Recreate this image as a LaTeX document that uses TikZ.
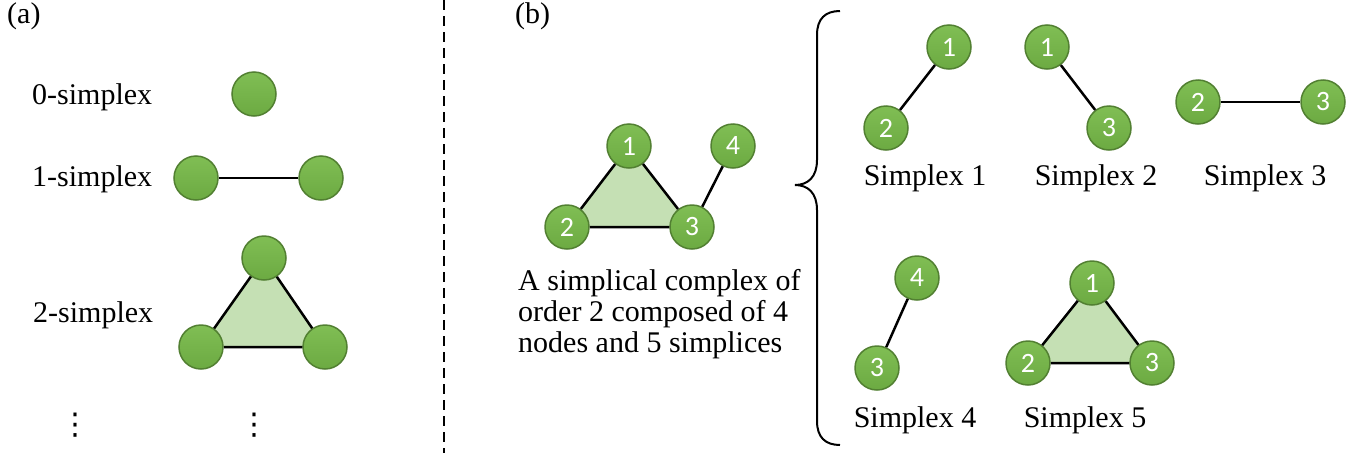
\documentclass[tikz,border=0pt]{standalone}
\usepackage{fontspec}
\setmainfont{Liberation Serif}
\newfontfamily\calfont{Carlito}
\newfontfamily\djv{DejaVu Sans}
\usetikzlibrary{backgrounds}
\definecolor{ballTop}{RGB}{128,190,84}
\definecolor{ballBot}{RGB}{108,170,66}
\definecolor{ballEdge}{RGB}{82,128,50}
\definecolor{faceGreen}{RGB}{197,224,180}
\begin{document}
\begin{tikzpicture}[x=1pt,y=-1pt,
  ball/.style={circle, minimum size=44pt, inner sep=0pt, draw=ballEdge, line width=1.5pt,
    top color=ballTop, bottom color=ballBot, text=white,
    font=\calfont\fontsize{28}{28}\selectfont},
  lbl/.style={font=\fontsize{30}{31}\selectfont, inner sep=0pt},
  dots/.style={font=\djv\fontsize{30}{30}\selectfont, inner sep=0pt},
  edge/.style={line width=2.5pt, black},
  face/.style={fill=faceGreen}]
\useasboundingbox (0,0) rectangle (1353,453);

% (a)
\node[lbl, anchor=west] (la) at (7,16) {(a)};
\node[lbl, anchor=west] (t0) at (32,97) {0-simplex};
\node[lbl, anchor=west] (t1) at (32,179) {1-simplex};
\node[lbl, anchor=west] (t2) at (33,315) {2-simplex};
\node[dots] (d1) at (75,425) {⋮};
\node[dots] (d2) at (254,425) {⋮};

\node[ball] (s0) at (254,94) {};
\node[ball] (s1a) at (196,178) {};
\node[ball] (s1b) at (321,178) {};
\node[ball] (s2a) at (264,258) {};
\node[ball] (s2b) at (201,347) {};
\node[ball] (s2c) at (325,347) {};
\begin{scope}[on background layer]
  \fill[face] (s2a.center) -- (s2b.center) -- (s2c.center) -- cycle;
\end{scope}
\draw[edge] (s1a) -- (s1b);
\draw[edge] (s2a) -- (s2b) (s2b) -- (s2c) (s2c) -- (s2a);

% divider
\draw[line width=2.5pt, dash pattern=on 10pt off 6pt] (444,0) -- (444,453);

% (b)
\node[lbl, anchor=west] (lb) at (515,16) {(b)};
\node[ball] (c1) at (629,146) {1};
\node[ball] (c4) at (733,146) {4};
\node[ball] (c2) at (567,227) {2};
\node[ball] (c3) at (692,227) {3};
\begin{scope}[on background layer]
  \fill[face] (c1.center) -- (c2.center) -- (c3.center) -- cycle;
\end{scope}
\draw[edge] (c1) -- (c2) (c2) -- (c3) (c3) -- (c1) (c3) -- (c4);
\node[lbl, align=left, anchor=north west] (desc) at (518,269)
  {A simplical complex of\\order 2 composed of 4\\nodes and 5 simplices};

% brace
\draw[line width=2pt] (840,11) .. controls (825,11) and (817,19) .. (817,35)
  -- (817,160) .. controls (817,177) and (808,185) .. (795,185)
  .. controls (808,185) and (817,193) .. (817,210)
  -- (817,421) .. controls (817,437) and (825,445) .. (840,445);

% simplex 1
\node[ball] (a1) at (949,47) {1};
\node[ball] (a2) at (886,128) {2};
\draw[edge] (a1) -- (a2);
\node[lbl] (ta) at (925,178) {Simplex 1};
% simplex 2
\node[ball] (b1) at (1047,47) {1};
\node[ball] (b3) at (1109,128) {3};
\draw[edge] (b1) -- (b3);
\node[lbl] (tb) at (1096,178) {Simplex 2};
% simplex 3
\node[ball] (e2) at (1198,102) {2};
\node[ball] (e3) at (1323,102) {3};
\draw[edge] (e2) -- (e3);
\node[lbl] (te) at (1265,178) {Simplex 3};
% simplex 4
\node[ball] (f4) at (917,278) {4};
\node[ball] (f3) at (877,368) {3};
\draw[edge] (f4) -- (f3);
\node[lbl] (tf) at (915,420) {Simplex 4};
% simplex 5
\node[ball] (g1) at (1092,283) {1};
\node[ball] (g2) at (1028,363) {2};
\node[ball] (g3) at (1152,363) {3};
\begin{scope}[on background layer]
  \fill[face] (g1.center) -- (g2.center) -- (g3.center) -- cycle;
\end{scope}
\draw[edge] (g1) -- (g2) (g2) -- (g3) (g3) -- (g1);
\node[lbl] (tg) at (1085,420) {Simplex 5};
\end{tikzpicture}
\end{document}
